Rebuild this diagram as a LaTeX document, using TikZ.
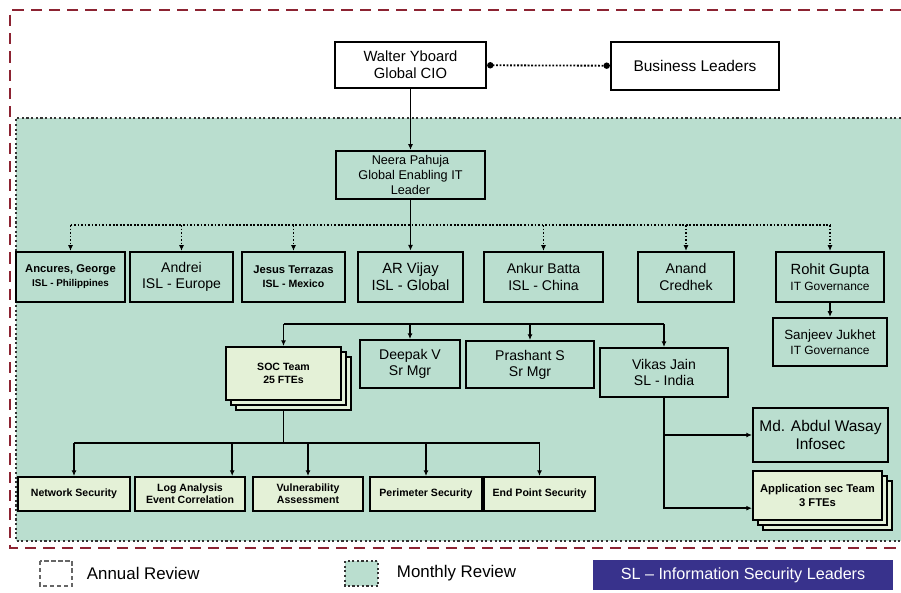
\documentclass[tikz,border=0pt]{standalone}
\usepackage{fontspec}
\setmainfont{Liberation Sans}
\usetikzlibrary{arrows.meta,shadows}
\definecolor{annualred}{RGB}{140,35,50}
\definecolor{monthgreen}{RGB}{186,222,207}
\definecolor{teamfill}{RGB}{228,241,215}
\definecolor{slblue}{RGB}{56,50,140}
\newcommand{\boxfont}[2]{\fontsize{#1}{#2}\selectfont}

\begin{document}
\begin{tikzpicture}[x=0.025cm,y=-0.025cm,
  box/.style={draw=black,line width=1.6pt,fill=monthgreen,align=center,inner sep=1pt,font=\boxfont{10}{11.5}},
  islbox/.style={box,minimum height=1.25cm},
  teambox/.style={box,fill=teamfill,line width=1.4pt,minimum height=0.85cm,font=\bfseries\boxfont{7.5}{8.5}},
  stackbox/.style={box,fill=teamfill,line width=1.4pt,font=\bfseries\boxfont{7.5}{9},
    double copy shadow={shadow xshift=3.5pt,shadow yshift=-3.5pt,draw=black,fill=teamfill,line width=1.2pt}},
  line/.style={draw=black,line width=1.3pt},
  link/.style={line,-{Latex[length=4pt,width=3.5pt]}},
  dotline/.style={line,dash pattern=on 1.3pt off 1.2pt},
  dotlink/.style={dotline,-{Latex[length=4pt,width=3.5pt]}},
  annual/.style={draw=annualred,line width=2pt,dash pattern=on 8pt off 5pt},
  monthly/.style={draw=black!80,line width=1.8pt,dash pattern=on 1.5pt off 1.8pt}]
\useasboundingbox (0,0) rectangle (901,592);
\fill[monthgreen] (16,118) rectangle (901,541);
\draw[monthly] (901,118) -- (16,118) -- (16,541) -- (901,541);
\draw[annual] (901,10) -- (10,10) -- (10,548) -- (901,548);

\node[box,fill=white,minimum width=3.775cm,minimum height=1.15cm,font=\boxfont{10.5}{12}] (walter) at (410.5,65) {Walter Yboard\\Global CIO};
\node[box,fill=white,minimum width=4.2cm,minimum height=1.2cm,font=\boxfont{11}{12}] (biz) at (695,66) {Business Leaders};
\node[box,minimum width=3.725cm,minimum height=1.2cm,font=\boxfont{9}{10.5}] (neera) at (410.5,175) {Neera Pahuja\\Global Enabling IT\\Leader};

\node[islbox,minimum width=2.725cm,font=\bfseries\boxfont{8}{10}] (ancures) at (70.5,277) {Ancures, George\\{\boxfont{7}{8}ISL - Philippines}};
\node[islbox,minimum width=2.575cm] (andrei) at (181.5,277) {Andrei\\ISL - Europe};
\node[islbox,minimum width=2.575cm,font=\bfseries\boxfont{8}{10}] (jesus) at (293.5,277) {Jesus Terrazas\\{\boxfont{7.5}{8}ISL - Mexico}};
\node[islbox,line width=2pt,minimum width=2.625cm,font=\boxfont{10.5}{12}] (vijay) at (410.5,277) {AR Vijay\\ISL - Global};
\node[islbox,minimum width=2.975cm] (ankur) at (543.5,277) {Ankur Batta\\ISL - China};
\node[islbox,minimum width=2.4cm] (anand) at (686,277) {Anand\\Credhek};
\node[islbox,minimum width=2.7cm,font=\boxfont{10.5}{11}] (rohit) at (830,277) {Rohit Gupta\\{\boxfont{8.5}{9}IT Governance}};
\node[box,minimum width=2.85cm,minimum height=1.2cm,font=\boxfont{9.5}{10.5}] (sanjeev) at (830,342) {Sanjeev Jukhet\\{\boxfont{8.5}{9}IT Governance}};

\node[stackbox,minimum width=2.875cm,minimum height=1.325cm] (soc) at (283.5,373.5) {SOC Team\\25 FTEs};
\node[box,line width=1.4pt,minimum width=2.5cm,minimum height=1.2cm] (deepak) at (410,364) {Deepak V\\Sr Mgr};
\node[box,line width=1.4pt,minimum width=3.2cm,minimum height=1.175cm] (prashant) at (530,364.5) {Prashant S\\Sr Mgr};
\node[box,line width=1.4pt,minimum width=3.2cm,minimum height=1.225cm] (vikas) at (664,372.5) {Vikas Jain\\SL - India};
\node[box,line width=1.4pt,minimum width=3.375cm,minimum height=1.35cm,font=\boxfont{11}{12.5}] (abdul) at (820.5,435) {Md. Abdul Wasay\\Infosec};
\node[stackbox,minimum width=3.225cm,minimum height=1.225cm,font=\bfseries\boxfont{8}{9.5}] (app) at (817.5,495.5) {Application sec Team\\3 FTEs};

\node[teambox,minimum width=2.8cm] (network) at (74,494) {Network Security};
\node[teambox,minimum width=2.75cm] (log) at (190,494) {Log Analysis\\Event Correlation};
\node[teambox,minimum width=2.75cm] (vuln) at (308,494) {Vulnerability\\Assessment};
\node[teambox,minimum width=2.8cm] (perimeter) at (426,494) {Perimeter Security};
\node[teambox,minimum width=2.775cm] (endpoint) at (539.5,494) {End Point Security};

\draw[dotline,{Circle[length=4.5pt]}-{Circle[length=4.5pt]}] (walter) -- (biz);
\draw[link] (walter) -- (neera);
\draw[link] (neera) -- (vijay);
\coordinate (isl bus) at (0,225);
\draw[dotline] (ancures.north |- isl bus) -- (rohit.north |- isl bus);
\foreach \n in {ancures,andrei,jesus,ankur,anand,rohit}
  \draw[dotlink] (\n.north |- isl bus) -- (\n.north);
\draw[link] (rohit) -- (sanjeev);

\coordinate (team bus) at (0,324);
\draw[line] (soc.north |- team bus) -- (vikas.north |- team bus);
\foreach \n in {soc,deepak,prashant,vikas}
  \draw[link] (\n.north |- team bus) -- (\n.north);
\draw[link] (vikas.south) |- (abdul.west);
\draw[link] (vikas.south) |- ([yshift=-9pt]app.west);

\coordinate (soc bus) at (0,443);
\coordinate (log in) at ([xshift=30pt]log.north);
\draw[line] ([yshift=-7pt]soc.south) -- (soc.south |- soc bus);
\draw[line] (network.north |- soc bus) -- (endpoint.north |- soc bus);
\foreach \n in {network.north,log in,vuln.north,perimeter.north,endpoint.north}
  \draw[link] (\n |- soc bus) -- (\n);

\draw[draw=black!60,line width=0.8pt,dash pattern=on 3pt off 2pt] (40,561) rectangle (72,586);
\node[anchor=west,font=\boxfont{12}{14}] (annual text) at (82,573) {Annual Review};
\draw[monthly,fill=monthgreen,line width=1.4pt] (345,561) rectangle (378,586);
\node[anchor=west,font=\boxfont{12}{14}] (monthly text) at (392,573) {Monthly Review};
\node[fill=slblue,text=white,minimum width=7.5cm,minimum height=0.75cm,font=\boxfont{11.5}{13}] (sl key) at (743,575) {SL – Information Security Leaders};
\end{tikzpicture}
\end{document}
